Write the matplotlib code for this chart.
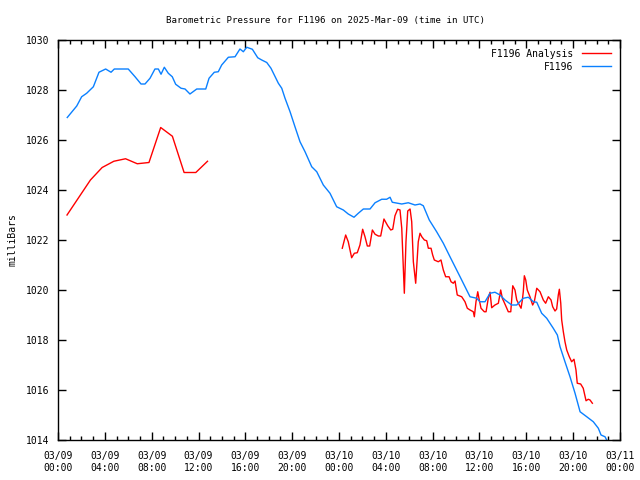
import numpy as np
import matplotlib
matplotlib.use('Agg')
import matplotlib.pyplot as plt
from matplotlib.ticker import MultipleLocator

# hours since 2025-03-09 00:00 UTC
blue_h = [0.79, 1.60, 2.02, 2.45, 3.02, 3.50, 4.07, 4.53, 4.81, 6.00, 6.58, 7.09, 7.43, 7.86,
          8.28, 8.57, 8.80, 9.08, 9.42, 9.76, 10.05, 10.51, 10.85, 11.27, 11.85, 12.62, 12.90,
          13.35, 13.69, 13.98, 14.55, 15.12, 15.54, 15.83, 16.12, 16.60, 17.06, 17.40, 17.83,
          18.19, 18.82, 19.11, 19.39, 19.82, 20.24, 20.67, 21.10, 21.67, 22.10, 22.66, 23.23,
          23.80, 24.37, 24.79, 25.28, 25.65, 26.08, 26.65, 27.08, 27.65, 28.07, 28.36, 28.55,
          29.36, 29.92, 30.49, 30.92, 31.20, 31.71, 32.34, 32.91, 33.48, 34.34, 35.19, 35.76,
          36.04, 36.47, 36.90, 37.32, 37.75, 38.18, 38.75, 39.18, 39.74, 40.17, 40.60, 40.89,
          41.31, 41.74, 42.30, 42.65, 42.88, 43.30, 43.73, 44.16, 44.59, 45.16, 45.72, 46.15,
          46.38, 46.72, 46.86]
blue_p = [1026.90, 1027.36, 1027.73, 1027.87, 1028.13, 1028.71, 1028.84, 1028.71, 1028.84,
          1028.84, 1028.53, 1028.24, 1028.24, 1028.47, 1028.84, 1028.84, 1028.63, 1028.91,
          1028.67, 1028.53, 1028.23, 1028.07, 1028.04, 1027.84, 1028.04, 1028.04, 1028.47,
          1028.71, 1028.73, 1029.00, 1029.31, 1029.33, 1029.64, 1029.53, 1029.71, 1029.63,
          1029.29, 1029.20, 1029.10, 1028.87, 1028.27, 1028.07, 1027.67, 1027.13, 1026.53,
          1025.93, 1025.53, 1024.93, 1024.73, 1024.20, 1023.87, 1023.33, 1023.20, 1023.04,
          1022.91, 1023.07, 1023.24, 1023.24, 1023.49, 1023.63, 1023.63, 1023.71, 1023.51,
          1023.44, 1023.49, 1023.40, 1023.44, 1023.37, 1022.80, 1022.33, 1021.87, 1021.33,
          1020.53, 1019.73, 1019.67, 1019.53, 1019.53, 1019.87, 1019.91, 1019.80, 1019.60,
          1019.40, 1019.40, 1019.67, 1019.71, 1019.53, 1019.51, 1019.07, 1018.87, 1018.47,
          1018.20, 1017.73, 1017.13, 1016.53, 1015.87, 1015.13, 1014.93, 1014.73, 1014.47,
          1014.20, 1014.13, 1014.00]

red1_h = [0.77, 1.77, 2.77, 3.77, 4.77, 5.77, 6.77, 7.77, 8.77, 9.77, 10.77, 11.77, 12.77]
red1_p = [1023.0, 1023.7, 1024.4, 1024.9, 1025.15, 1025.25, 1025.05, 1025.1, 1026.5,
          1026.15, 1024.7, 1024.7, 1025.15]

red2_h = [24.28, 24.57, 24.79, 25.08, 25.31, 25.56, 25.79, 26.02, 26.22, 26.42, 26.62, 26.85,
          27.08, 27.36, 27.56, 27.84, 28.16, 28.42, 28.59, 28.78, 29.01, 29.21, 29.36, 29.58,
          29.72, 29.87, 30.07, 30.21, 30.35, 30.55, 30.69, 30.77, 30.92, 31.07, 31.29, 31.49,
          31.63, 31.86, 32.00, 32.14, 32.48, 32.71, 32.91, 33.11, 33.40, 33.57, 33.76, 33.91,
          34.10, 34.48, 34.76, 34.96, 35.19, 35.47, 35.56, 35.70, 35.85, 35.98, 36.13, 36.41,
          36.56, 36.75, 36.90, 37.04, 37.32, 37.61, 37.81, 37.95, 38.18, 38.46, 38.67, 38.84,
          39.03, 39.18, 39.40, 39.55, 39.66, 39.74, 39.83, 39.95, 40.08, 40.31, 40.54, 40.68,
          40.89, 41.17, 41.45, 41.65, 41.88, 42.11, 42.25, 42.45, 42.59, 42.73, 42.82, 42.94,
          43.02, 43.16, 43.30, 43.45, 43.67, 43.87, 44.07, 44.24, 44.35, 44.64, 44.86, 45.10,
          45.29, 45.44, 45.64]
red2_p = [1021.67, 1022.20, 1021.93, 1021.29, 1021.47, 1021.49, 1021.80, 1022.43, 1022.13,
          1021.76, 1021.76, 1022.40, 1022.23, 1022.16, 1022.16, 1022.84, 1022.57, 1022.40,
          1022.43, 1022.97, 1023.23, 1023.20, 1022.47, 1019.87, 1021.93, 1023.16, 1023.24,
          1022.73, 1021.13, 1020.27, 1021.33, 1021.93, 1022.27, 1022.13, 1022.00, 1021.97,
          1021.67, 1021.67, 1021.40, 1021.20, 1021.13, 1021.20, 1020.80, 1020.53, 1020.53,
          1020.33, 1020.27, 1020.36, 1019.80, 1019.73, 1019.53, 1019.27, 1019.20, 1019.13,
          1018.93, 1019.53, 1019.93, 1019.60, 1019.27, 1019.13, 1019.13, 1019.67, 1019.91,
          1019.29, 1019.40, 1019.47, 1020.00, 1019.67, 1019.43, 1019.13, 1019.13, 1020.17,
          1020.00, 1019.60, 1019.40, 1019.27, 1019.60, 1019.93, 1020.57, 1020.40, 1020.00,
          1019.73, 1019.40, 1019.53, 1020.07, 1019.93, 1019.60, 1019.47, 1019.73, 1019.60,
          1019.33, 1019.16, 1019.24, 1019.80, 1020.03, 1019.47, 1018.80, 1018.33, 1017.93,
          1017.60, 1017.33, 1017.13, 1017.23, 1016.80, 1016.27, 1016.24, 1016.07, 1015.57,
          1015.63, 1015.60, 1015.47]

xtick_labels = ['03/09\n00:00', '03/09\n04:00', '03/09\n08:00', '03/09\n12:00', '03/09\n16:00',
                '03/09\n20:00', '03/10\n00:00', '03/10\n04:00', '03/10\n08:00', '03/10\n12:00',
                '03/10\n16:00', '03/10\n20:00', '03/11\n00:00']

plt.rcParams['font.family'] = 'DejaVu Sans Mono'
plt.rcParams['font.size'] = 7

fig = plt.figure(figsize=(6.4, 4.8), dpi=100)
ax = fig.add_axes([58/640, 40/480, 562/640, 400/480])

ax.plot(red1_h, red1_p, color='#ff0000', lw=1.0, label='F1196 Analysis')
ax.plot(red2_h, red2_p, color='#ff0000', lw=1.0)
ax.plot(blue_h, blue_p, color='#0a80ff', lw=1.0, label='F1196')

ax.set_xlim(0, 48)
ax.set_ylim(1014, 1030)
ax.set_xticks(np.arange(0, 49, 4))
ax.set_xticklabels(xtick_labels)
ax.xaxis.set_minor_locator(MultipleLocator(1))
ax.set_yticks(np.arange(1014, 1031, 2))
ax.tick_params(which='both', direction='in', top=True, right=True, width=1)
ax.tick_params(axis='x', pad=8)
ax.tick_params(axis='y', pad=6)
ax.tick_params(which='major', length=6)
ax.tick_params(which='minor', length=3)
for s in ax.spines.values():
    s.set_linewidth(1)

ax.set_ylabel('milliBars', labelpad=6)
# title sits centred on the canvas, not the plot box (gnuplot style)
ax.set_title('Barometric Pressure for F1196 on 2025-Mar-09 (time in UTC)', fontsize=6.6,
             pad=12, x=(325 - 58) / 562)
ax.legend(loc='upper right', frameon=False, markerfirst=False, handlelength=3.0,
          borderaxespad=0.5, labelspacing=0.3, handletextpad=0.9)

fig.savefig('out.png', dpi=100)
